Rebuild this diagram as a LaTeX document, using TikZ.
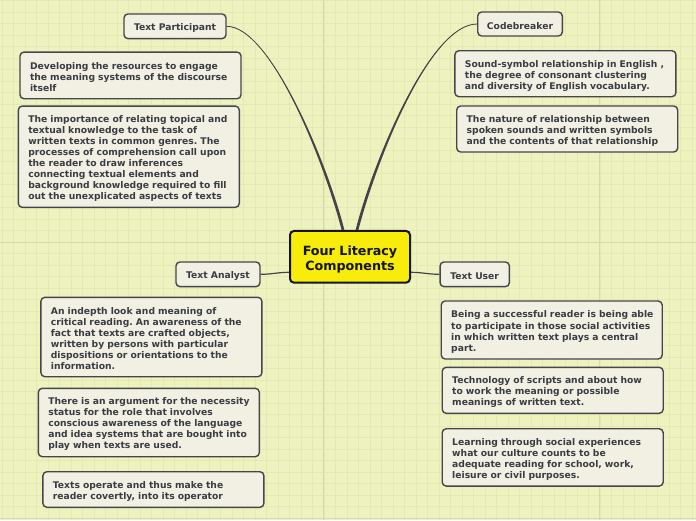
\documentclass[tikz,border=0pt]{standalone}
\usepackage{fontspec}
\setmainfont{DejaVu Sans}
\frenchspacing
\definecolor{bg}{RGB}{238,242,191}
\definecolor{gridminor}{RGB}{228,233,180}
\definecolor{gridmajor}{RGB}{214,219,165}
\definecolor{boxfill}{RGB}{241,240,227}
\definecolor{boxline}{RGB}{68,70,76}
\definecolor{txt}{RGB}{58,60,68}
\definecolor{centfill}{RGB}{247,236,10}
\definecolor{conncol}{RGB}{68,68,72}
\newcommand\fstrut{\rule{0pt}{10.9pt}}
\newcommand\cstrut{\rule{0pt}{15.3pt}}
\tikzset{
  topic/.style={draw=boxline, fill=boxfill, line width=1.4pt, rounded corners=4pt, text=txt,
    font=\bfseries\fontsize{9.2}{11}\selectfont, inner sep=0pt, align=center},
  sub/.style={draw=boxline, fill=boxfill, line width=1.4pt, rounded corners=4pt, text=txt,
    font=\bfseries\fontsize{9.2}{11}\selectfont, inner xsep=10pt, inner ysep=0pt, align=left,
    text width=201pt, minimum width=221pt},
  central/.style={draw=black!92, fill=centfill, line width=2pt, rounded corners=4pt, text=black!92,
    font=\bfseries\fontsize{12.7}{15}\selectfont, inner sep=0pt, align=center},
  conn/.style={draw=conncol, line width=0.8pt},
  taper/.style={fill=conncol},
}
\begin{document}
\begin{tikzpicture}[x=1pt,y=-1pt]
\useasboundingbox (0,0) rectangle (696,520);
\fill[bg] (0,0) rectangle (696,520);
\foreach \i in {0,...,60} \draw[gridminor, line width=0.6pt] ({1.8+11.5*\i},0) -- ({1.8+11.5*\i},520);
\foreach \j in {0,...,45} \draw[gridminor, line width=0.6pt] (0,{0.5+11.5*\j}) -- (696,{0.5+11.5*\j});
\foreach \i in {28,52} \draw[gridmajor, line width=0.9pt] ({1.8+11.5*\i},0) -- ({1.8+11.5*\i},520);
\foreach \j in {21,45} \draw[gridmajor, line width=0.9pt] (0,{0.5+11.5*\j}) -- (696,{0.5+11.5*\j});

% central and main topics
\node[central, minimum width=120pt, minimum height=51.7pt] (c) at (350,256.8) {\cstrut Four Literacy\\Components};
\node[topic, minimum width=102pt, minimum height=24.7pt] (tp) at (175,26.3) {\fstrut Text Participant};
\node[topic, minimum width=84.6pt, minimum height=24pt] (cb) at (520,24) {\fstrut Codebreaker};
\node[topic, minimum width=84pt, minimum height=24.7pt] (ta) at (218,274.3) {\fstrut Text Analyst};
\node[topic, minimum width=69.3pt, minimum height=24.7pt] (tu) at (474.7,274.3) {\fstrut Text User};

% Text Participant details
\node[sub, minimum height=46.7pt] (d1) at (130.5,75.4) {\fstrut Developing the resources to engage\\the meaning systems of the discourse\\itself};
\node[sub, minimum height=101.3pt] (d2) at (128.8,156.7) {\fstrut The importance of relating topical and\\textual knowledge to the task of\\written texts in common genres. The\\processes of comprehension call upon\\the reader to draw inferences\\connecting textual elements and\\background knowledge required to fill\\out the unexplicated aspects of texts};

% Codebreaker details
\node[sub, minimum height=46pt] (s1) at (565.4,73.7) {\fstrut Sound-symbol relationship in English ,\\the degree of consonant clustering\\and diversity of English vocabulary.};
\node[sub, minimum height=46pt] (s2) at (567.2,129) {\fstrut The nature of relationship between\\spoken sounds and written symbols\\and the contents of that relationship};

% Text Analyst details
\node[sub, minimum height=79.4pt] (a1) at (151.4,337) {\fstrut An indepth look and meaning of\\critical reading. An awareness of the\\fact that texts are crafted objects,\\written by persons with particular\\dispositions or orientations to the\\information.};
\node[sub, minimum height=68.4pt] (a2) at (148.8,422.5) {\fstrut \mbox{There is an argument for the necessity}\\status for the role that involves\\conscious awareness of the language\\and idea systems that are bought into\\play when texts are used.};
\node[sub, minimum height=35.6pt] (a3) at (153.4,489.5) {\fstrut Texts operate and thus make the\\reader covertly, into its operator};

% Text User details
\node[sub, minimum height=58pt] (u1) at (551.7,330) {\fstrut \mbox{Being a successful reader is being able}\\\mbox{to participate in those social activities}\\in which written text plays a central\\part.};
\node[sub, minimum height=46pt] (u2) at (552.7,390.3) {\fstrut Technology of scripts and about how\\to work the meaning or possible\\meanings of written text.};
\node[sub, minimum height=57.3pt] (u3) at (552.7,457.4) {\fstrut Learning through social experiences\\what our culture counts to be\\adequate reading for school, work,\\leisure or civil purposes.};

% connectors
\fill[taper] ([xshift=-8.4pt]c.north) .. controls (323.4,160) and (270,25.8) .. (tp.east)
  .. controls (270,26.8) and (326.6,160) .. ([xshift=-5.6pt]c.north) -- cycle;
\draw[conn] ([xshift=-7pt]c.north) .. controls (325,160) and (270,26.3) .. (tp.east);
\fill[taper] ([xshift=5.6pt]c.north) .. controls (373.4,160) and (430,23.5) .. (cb.west)
  .. controls (430,24.5) and (376.6,160) .. ([xshift=8.4pt]c.north) -- cycle;
\draw[conn] ([xshift=7pt]c.north) .. controls (375,160) and (430,24) .. (cb.west);
\draw[conn, line width=1.2pt] ([yshift=-15.5pt]c.west) .. controls (278,272.3) and (272,274.3) .. (ta.east);
\draw[conn, line width=1.2pt] ([yshift=-15.5pt]c.east) .. controls (422,272.3) and (428,274.3) .. (tu.west);
\end{tikzpicture}
\end{document}
